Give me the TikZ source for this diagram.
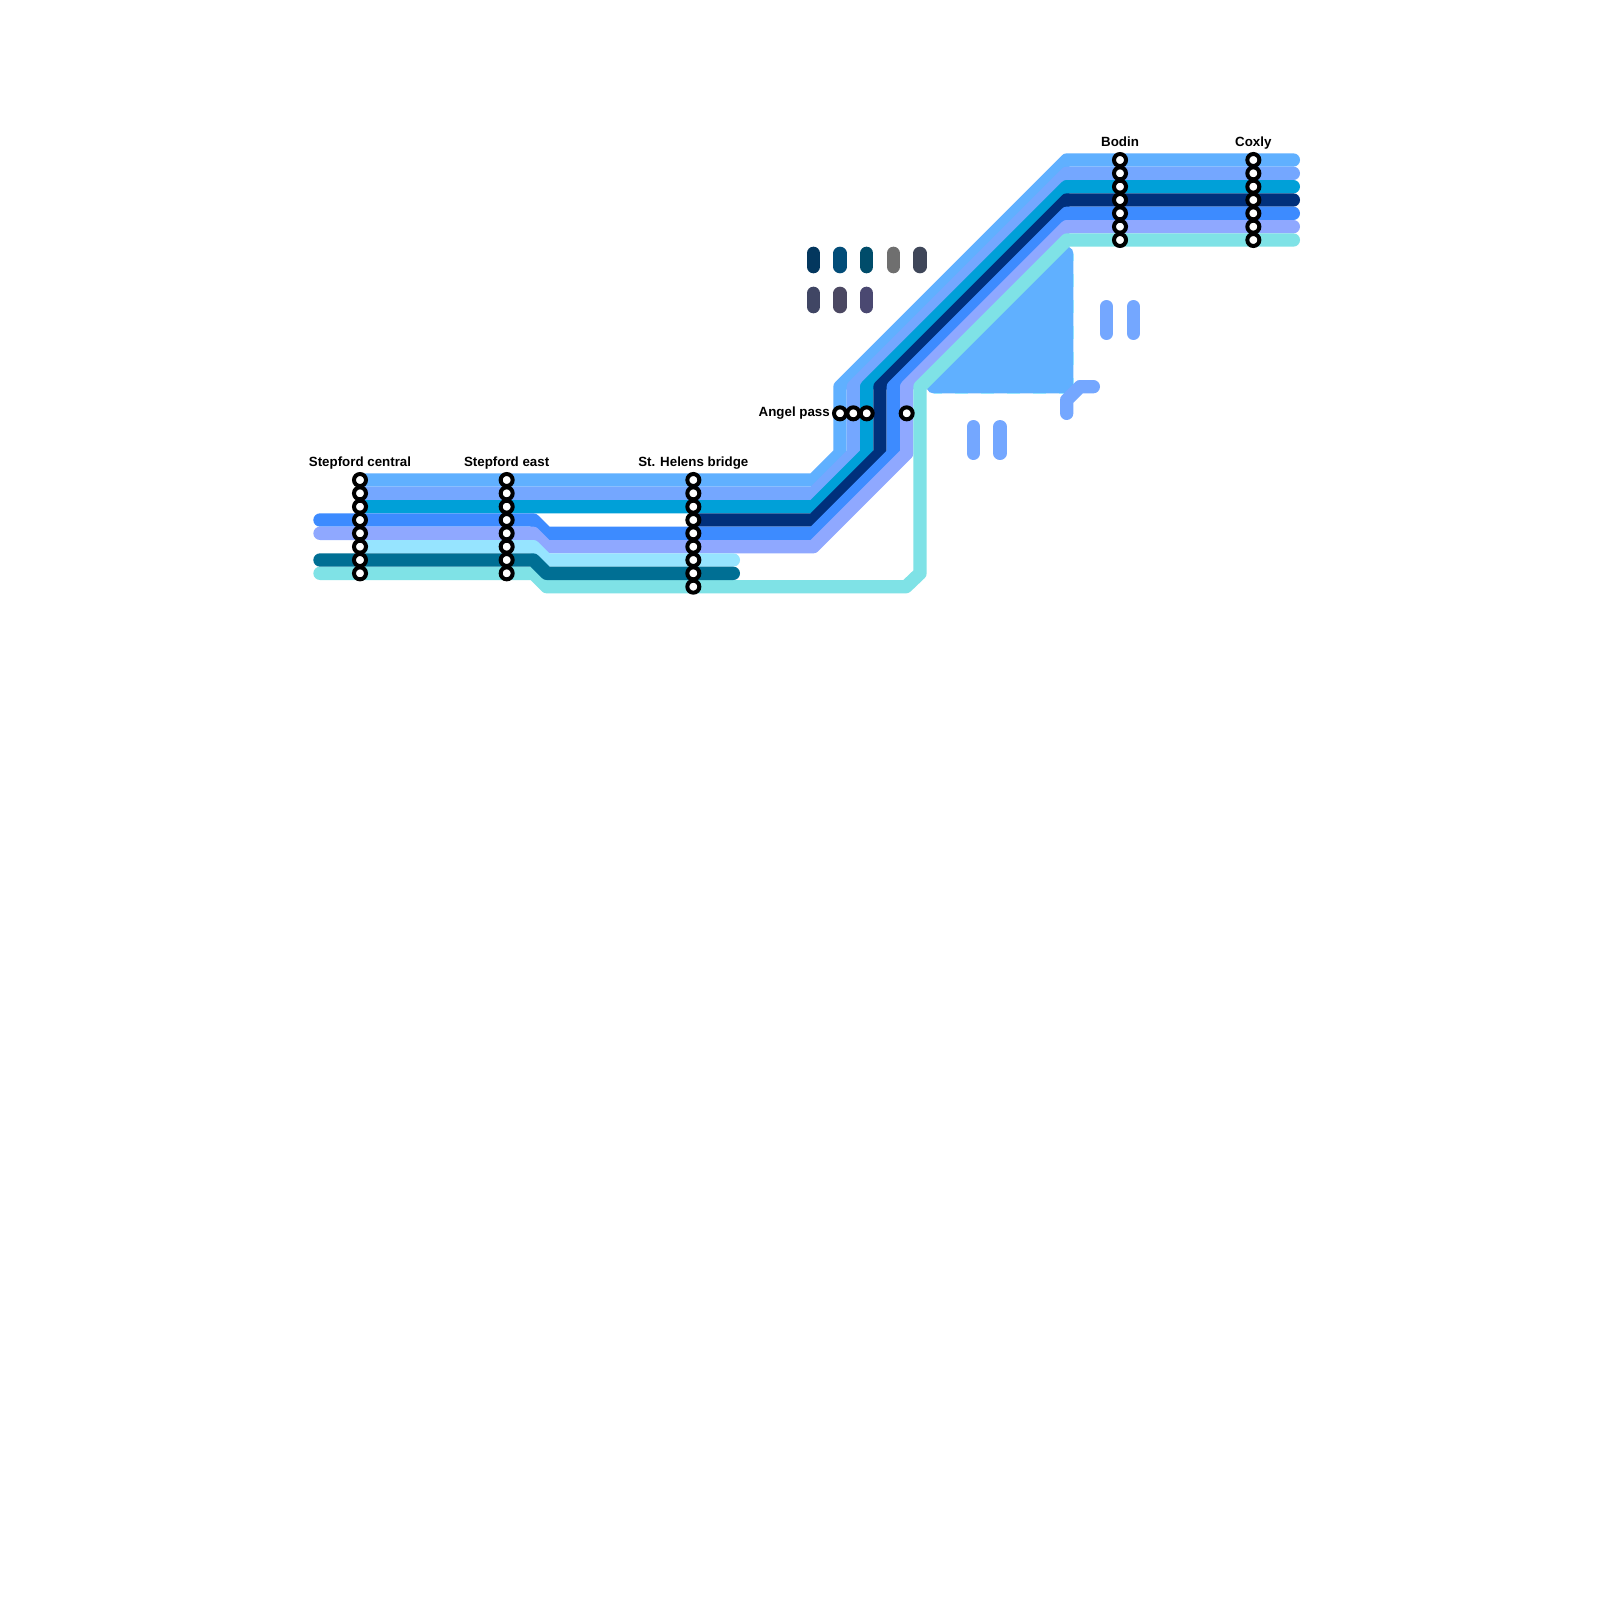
\documentclass[tikz,border=0pt]{standalone}
\usepackage{fontspec}
\setmainfont{Liberation Sans}
\definecolor{lA}{HTML}{60B0FF}
\definecolor{lB}{HTML}{74A7FF}
\definecolor{lC}{HTML}{00A0D8}
\definecolor{lD}{HTML}{3D8BFF}
\definecolor{lE}{HTML}{8FA8FF}
\definecolor{lF}{HTML}{96E4FF}
\definecolor{lG}{HTML}{006F94}
\definecolor{lH}{HTML}{7FE2E6}
\definecolor{lN}{HTML}{00307C}
\definecolor{pA}{HTML}{03375E}
\definecolor{pB}{HTML}{024C78}
\definecolor{pC}{HTML}{004C6A}
\definecolor{pD}{HTML}{6F6F6F}
\definecolor{pE}{HTML}{3F4659}
\definecolor{pF}{HTML}{404664}
\definecolor{pG}{HTML}{4B4862}
\definecolor{pH}{HTML}{4A4871}
\tikzset{
  metro/.style={line width=13.33pt,line cap=round,line join=round},
  stop/.style={circle,draw=black,fill=white,line width=4pt,minimum size=12pt,inner sep=0pt},
  stoplabel/.style={font=\fontsize{13.33}{13.33}\selectfont\bfseries,text=black,inner sep=0pt},
}
\begin{document}
\begin{tikzpicture}[x=1pt,y=-1pt]
\useasboundingbox (0,0) rectangle (1600,1600);
\fill[white] (0,0) rectangle (1600,1600);
% station positions
\foreach \n/\y in {1/480,2/493.33,3/506.67,4/520,5/533.33,6/546.67,7/560,8/573.33,9/586.67}{
  \coordinate (sc\n) at (360,\y);
  \coordinate (se\n) at (506.67,\y);
  \coordinate (sh\n) at (693.33,\y);
}
\foreach \n/\y in {1/160,2/173.33,3/186.67,4/200,5/213.33,6/226.67,7/240}{
  \coordinate (bo\n) at (1120,\y);
  \coordinate (cx\n) at (1253.33,\y);
}
\coordinate (ap1) at (840,413.33);
\coordinate (ap2) at (853.33,413.33);
\coordinate (ap3) at (866.67,413.33);
\coordinate (ap4) at (906.67,413.33);
% triangle
\filldraw[metro,lA] (933.33,386.67) -- (1066.67,253.33) -- (1066.67,386.67) -- cycle;
\draw[line width=0.7pt,draw=lF,dash pattern=on 13pt off 13pt,dash phase=6pt] (1073.33,254) -- (1073.33,386) (1066,393.33) -- (934,393.33);
% lines
\draw[metro,lA] (sc1) -- (sh1) -- (813.33,480) -- (840,453.33) -- (840,386.67) -- (1066.67,160) -- (cx1) -- (1293.33,160);
\draw[metro,lB] (sc2) -- (sh2) -- (813.33,493.33) -- (853.33,453.33) -- (853.33,386.67) -- (1066.67,173.33) -- (cx2) -- (1293.33,173.33);
\draw[metro,lC] (sc3) -- (sh3) -- (813.33,506.67) -- (866.67,453.33) -- (866.67,386.67) -- (1066.67,186.67) -- (cx3) -- (1293.33,186.67);
\draw[metro,lN] (sh4) -- (813.33,520) -- (880,453.33) -- (880,386.67) -- (1066.67,200) -- (cx4) -- (1293.33,200);
\draw[metro,lD] (320,520) -- (se4) -- (533.33,520) -- (546.67,533.33) -- (813.33,533.33) -- (893.33,453.33) -- (893.33,386.67) -- (1066.67,213.33) -- (cx5) -- (1293.33,213.33);
\draw[metro,lE] (320,533.33) -- (se5) -- (533.33,533.33) -- (546.67,546.67) -- (813.33,546.67) -- (906.67,453.33) -- (906.67,386.67) -- (1066.67,226.67) -- (cx6) -- (1293.33,226.67);
\draw[metro,lF] (sc6) -- (se6) -- (533.33,546.67) -- (546.67,560) -- (733.33,560);
\draw[metro,lH] (320,573.33) -- (se8) -- (533.33,573.33) -- (546.67,586.67) -- (906,586.67) -- (920,573.33) -- (920,386.67) -- (1066.67,240) -- (cx7) -- (1293.33,240);
\draw[metro,lG] (320,560) -- (se7) -- (533.33,560) -- (546.67,573.33) -- (733.33,573.33);
% loose segments
\draw[metro,lB] (1106.67,306.67) -- (1106.67,333.33);
\draw[metro,lB] (1133.33,306.67) -- (1133.33,333.33);
\draw[metro,lB] (973.33,426.67) -- (973.33,453.33);
\draw[metro,lB] (1000,426.67) -- (1000,453.33);
\draw[metro,lB] (1066.67,413.33) -- (1066.67,400) -- (1080,386.67) -- (1093.33,386.67);
\foreach \c/\x in {pA/813.33,pB/840,pC/866.67,pD/893.33,pE/920}{
  \draw[metro,\c] (\x,253.33) -- (\x,266.67);
}
\foreach \c/\x in {pF/813.33,pG/840,pH/866.67}{
  \draw[metro,\c] (\x,293.33) -- (\x,306.67);
}
% stations
\foreach \n in {1,...,8}{
  \node[stop] (stc\n) at (sc\n) {};
  \node[stop] (ste\n) at (se\n) {};
}
\foreach \n in {1,...,9}{
  \node[stop] (sth\n) at (sh\n) {};
}
\foreach \n in {1,...,7}{
  \node[stop] (stb\n) at (bo\n) {};
  \node[stop] (stx\n) at (cx\n) {};
}
\foreach \n in {1,...,4}{
  \node[stop] (sta\n) at (ap\n) {};
}
% labels
\node[stoplabel,anchor=base] (lsc) at (360,466.7) {Stepford central};
\node[stoplabel,anchor=base] (lse) at (506.67,466.7) {Stepford east};
\node[stoplabel,anchor=base] (lsh) at (693.33,466.7) {St. Helens bridge};
\node[stoplabel,anchor=base] (lbo) at (1120,146.5) {Bodin};
\node[stoplabel,anchor=base] (lcx) at (1253.33,146.5) {Coxly};
\node[stoplabel,anchor=base east] (lap) at (830,416.7) {Angel pass};
\end{tikzpicture}
\end{document}
